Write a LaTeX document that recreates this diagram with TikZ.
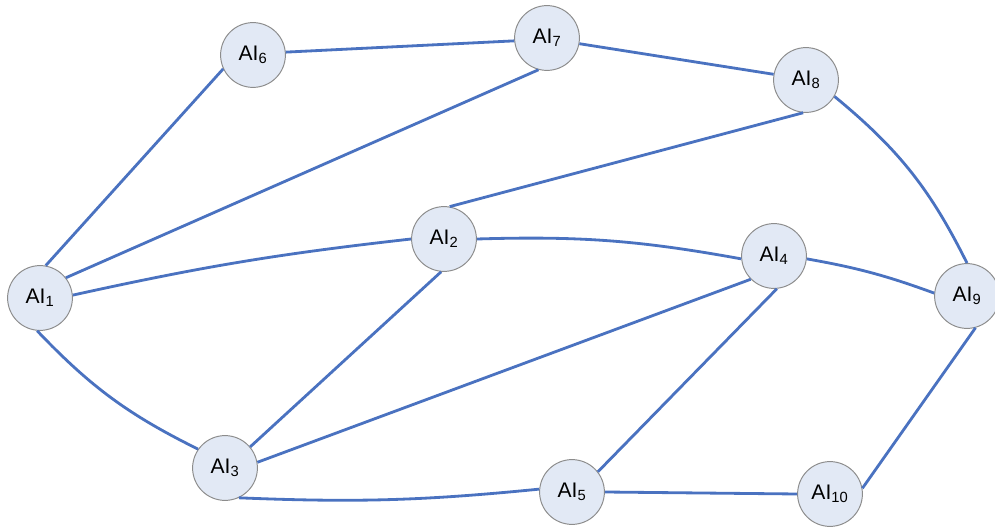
\documentclass[tikz,border=0pt]{standalone}
\usepackage{fontspec}
\setmainfont{Liberation Sans}
\usetikzlibrary{positioning}
\definecolor{linkblue}{HTML}{4A72C0}
\definecolor{aifill}{HTML}{E2E9F5}

\begin{document}
\begin{tikzpicture}[
  ai/.style={circle,draw=black!45,line width=0.7pt,fill=aifill,minimum size=1.62cm,inner sep=0pt,font=\fontsize{15}{17}\selectfont},
  link/.style={draw=linkblue,line width=2pt}]
\useasboundingbox (0,0) rectangle (24.875,-13.175);
% agents
\node[ai] (a1) at (1.0,-7.45) {AI\textsubscript{1}};
\node[ai] (a6) at (6.325,-1.375) {AI\textsubscript{6}};
\node[ai] (a7) at (13.675,-0.95) {AI\textsubscript{7}};
\node[ai] (a8) at (20.15,-2.0) {AI\textsubscript{8}};
\node[ai] (a2) at (11.1,-5.975) {AI\textsubscript{2}};
\node[ai] (a4) at (19.35,-6.4) {AI\textsubscript{4}};
\node[ai] (a9) at (24.175,-7.4) {AI\textsubscript{9}};
\node[ai] (a3) at (5.625,-11.7) {AI\textsubscript{3}};
\node[ai] (a5) at (14.3,-12.3) {AI\textsubscript{5}};
\node[ai] (a10) at (20.75,-12.35) {AI\textsubscript{10}};
% links
\draw[link] (a1.80) -- (a6.205);
\draw[link] (a1.38) -- (a7.255);
\draw[link] (a1.5) to[bend left=3] (a2.180);
\draw[link] (a1.265) to[bend right=10] (a3.145);
\draw[link] (a6.5) -- (a7.185);
\draw[link] (a7.350) -- (a8.170);
\draw[link] (a8.265) -- (a2.80);
\draw[link] (a8.330) to[bend left=12] (a9.90);
\draw[link] (a2.0) to[bend left=6] (a4.185);
\draw[link] (a2.265) -- (a3.40);
\draw[link] (a4.225) -- (a3.10);
\draw[link] (a4.275) -- (a5.38);
\draw[link] (a4.355) to[bend left=5] (a9.175);
\draw[link] (a9.285) -- (a10.10);
\draw[link] (a3.295) to[bend right=4] (a5.175);
\draw[link] (a5.0) -- (a10.180);
\end{tikzpicture}
\end{document}
